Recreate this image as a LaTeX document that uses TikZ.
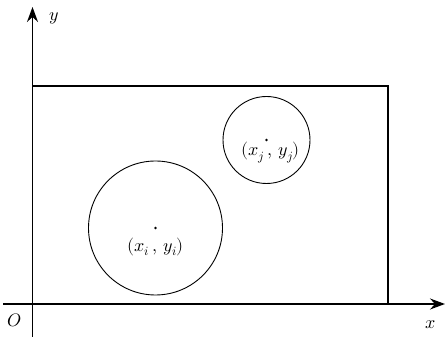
\documentclass[tikz,border=0pt]{standalone}
\usepackage{unicode-math}
\setmathfont{Latin Modern Math}
\usetikzlibrary{positioning, arrows.meta}
\newcommand{\ctrlabel}[1]{$(x_{#1}\,,\,y_{#1})$}
\begin{document}
\begin{tikzpicture}[x=1pt, y=1pt,
        axis/.style={-{Stealth[length=15pt, width=11pt, inset=5pt]}, line width=1.6pt},
        frame/.style={draw, line width=1.1pt},
        disk/.style={draw, circle, line width=0.9pt, inner sep=0pt},
        ctr/.style={circle, fill, inner sep=0pt, minimum size=2.8pt},
        every node/.style={font=\fontsize{18}{21}\selectfont}
    ]
    \useasboundingbox (0,0) rectangle (445,337);

    % Axes
    \coordinate (org)  at (32.5,33);
    \coordinate (xbeg) at (3,33);
    \coordinate (xend) at (445,33);
    \coordinate (ybeg) at (32.5,0);
    \coordinate (yend) at (32.5,330);
    \draw[axis] (xbeg) -- (xend);
    \draw[axis] (ybeg) -- (yend);
    \node (xlab) at (431,12)  {$x$};
    \node (ylab) at (54,319)  {$y$};
    \node (olab) at (14.5,17) {$O$};

    % Container
    \coordinate (tr) at (388,251);
    \draw[frame] (org) rectangle (tr);

    % Circle i
    \node[disk, minimum size=134pt] (ci) at (155.5,109) {};
    \node[ctr] (pi) at (ci.center) {};
    \node[below=8pt of pi, inner sep=0pt] (ti) {\ctrlabel{i}};

    % Circle j
    \node[disk, minimum size=87pt] (cj) at (266.5,197) {};
    \node[ctr] (pj) at (cj.center) {};
    \node[below=0.5pt of pj, inner sep=0pt, xshift=4pt] (tj) {\ctrlabel{j}};
\end{tikzpicture}
\end{document}
